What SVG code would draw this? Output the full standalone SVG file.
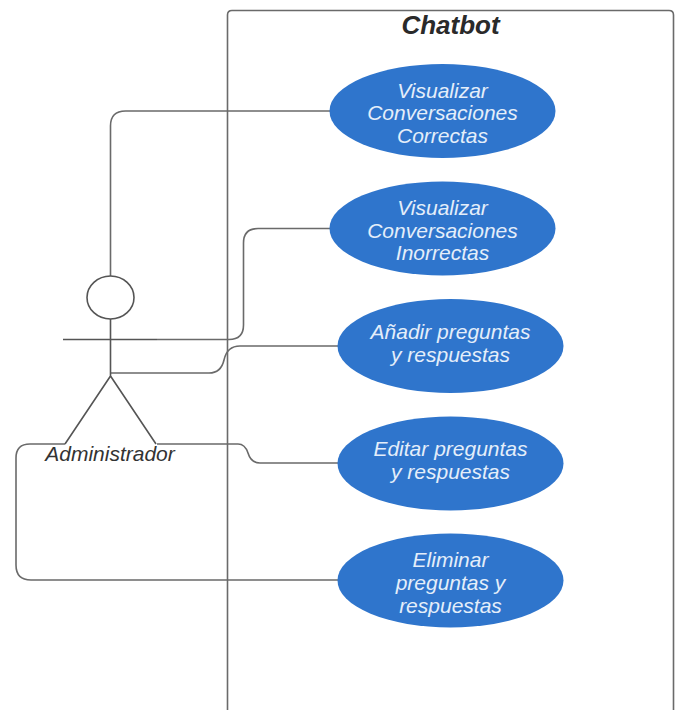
<svg xmlns="http://www.w3.org/2000/svg" width="678" height="710" viewBox="0 0 678 710">
<style>
.l{fill:none;stroke:#6a6a6a;stroke-width:1.6}
.a{fill:none;stroke:#555;stroke-width:1.6}
.e{fill:#2f75cc}
.t{font-family:"Liberation Sans",Arial,sans-serif;font-style:italic;font-size:21px;fill:#e4eefa;text-anchor:middle}
</style>
<rect width="678" height="710" fill="#fff"/>
<g id="system"><path class="l" d="M227.500 712V15Q227.500 10.500 232 10.500H669Q673.500 10.500 673.500 15V712"/>
<text x="450.500" y="34" text-anchor="middle" style="font-family:'Liberation Sans',Arial,sans-serif;font-style:italic;font-weight:bold;font-size:26px;fill:#2a2a2a">Chatbot</text></g>
<g id="connectors">
<path class="l" d="M110.500 276V126Q110.500 111 125.500 111H330"/>
<path class="l" d="M157 339.500H229Q243.500 339.500 243.500 325V243Q243.500 228.500 258 228.500H330"/>
<path class="l" d="M110 373H209Q221 373 224 360Q227 346 240 346H338"/>
<path class="l" d="M157 444H238Q245 444 248 453Q251 463 260 463H338"/>
<path class="l" d="M65 444H30Q16 444 16 458V565Q16 580 31 580H338"/>
</g>
<g id="actor">
<ellipse class="a" cx="110.500" cy="297.500" rx="23.500" ry="21.500"/>
<path class="a" d="M110.500 319V376M63 339.500H157M110.500 376L65 444M110.500 376L156 444"/>
<text x="110" y="461" text-anchor="middle" style="font-family:'Liberation Sans',Arial,sans-serif;font-style:italic;font-size:21px;fill:#333">Administrador</text>
</g>
<g id="uc1"><ellipse class="e" cx="442.500" cy="111" rx="113" ry="47"/><text class="t" x="442.500" y="97.500">Visualizar</text><text class="t" x="442.500" y="120">Conversaciones</text><text class="t" x="442.500" y="142.500">Correctas</text></g>
<g id="uc2"><ellipse class="e" cx="442.500" cy="228.500" rx="113" ry="47"/><text class="t" x="442.500" y="215">Visualizar</text><text class="t" x="442.500" y="237.500">Conversaciones</text><text class="t" x="442.500" y="260">Inorrectas</text></g>
<g id="uc3"><ellipse class="e" cx="450.500" cy="346" rx="113" ry="47"/><text class="t" x="450.500" y="338.500">Añadir preguntas</text><text class="t" x="450.500" y="361.500">y respuestas</text></g>
<g id="uc4"><ellipse class="e" cx="450.500" cy="463.500" rx="113" ry="47"/><text class="t" x="450.500" y="456">Editar preguntas</text><text class="t" x="450.500" y="479">y respuestas</text></g>
<g id="uc5"><ellipse class="e" cx="450.500" cy="580.500" rx="113" ry="47"/><text class="t" x="450.500" y="567">Eliminar</text><text class="t" x="450.500" y="590">preguntas y</text><text class="t" x="450.500" y="612.500">respuestas</text></g>
</svg>
